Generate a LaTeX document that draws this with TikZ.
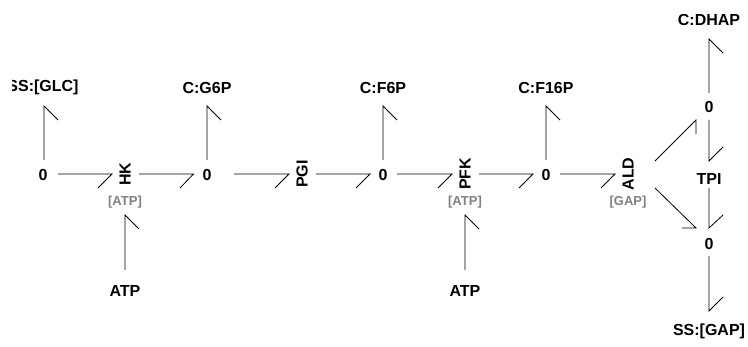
\documentclass[tikz,border=0pt]{standalone}
\usepackage{fontspec}
\setmainfont{Liberation Sans}
\tikzset{
 x=1pt,y=-1pt,
 lab/.style={font=\bfseries\fontsize{16}{16}\selectfont,inner sep=0pt,text=black},
 rot/.style={lab,rotate=90},
 mod/.style={font=\bfseries\fontsize{13}{13}\selectfont,inner sep=0pt,text=gray},
 bond/.style={draw=black,line width=0.8pt},
}
\begin{document}
\begin{tikzpicture}
\useasboundingbox (0,0) rectangle (748,347);
\node[lab] (glc) at (43,87.5) {SS:[GLC]};
\fill[white] (0,70) rectangle (11.5,100);
\node[lab] (z1) at (43,174.5) {0};
\node[rot] (hk) at (125,174) {HK};
\node[mod] (m1) at (125,202.5) {[ATP]};
\node[lab] (atp1) at (125,290.5) {ATP};
\node[lab] (g6p) at (207,87.5) {C:G6P};
\node[lab] (z2) at (207,174.5) {0};
\node[rot] (pgi) at (302,174) {PGI};
\node[lab] (f6p) at (383,87.5) {C:F6P};
\node[lab] (z3) at (383,174.5) {0};
\node[rot] (pfk) at (465,174) {PFK};
\node[mod] (m2) at (465,202.5) {[ATP]};
\node[lab] (atp2) at (465,290.5) {ATP};
\node[lab] (f16p) at (546,87.5) {C:F16P};
\node[lab] (z4) at (546,174.5) {0};
\node[rot] (ald) at (628,174) {ALD};
\node[mod] (m3) at (628,202.5) {[GAP]};
\node[lab] (dhap) at (709,19.5) {C:DHAP};
\node[lab] (z5) at (709,106.5) {0};
\node[lab] (tpi) at (709,178.5) {TPI};
\node[lab] (z6) at (709,243.5) {0};
\node[lab] (gap) at (709,331.5) {SS:[GAP]};
% bonds: start -- tip -- barb
\draw[bond] (44,160) -- (44,106) -- (58,120);
\draw[bond] (58,174) -- (112,174) -- (98,188);
\draw[bond] (139,174) -- (193.5,174) -- (180,188);
\draw[bond] (207,160) -- (207,106) -- (221,120);
\draw[bond] (234,174) -- (289,174) -- (275,188);
\draw[bond] (316,174) -- (370,174) -- (356,188);
\draw[bond] (383,160) -- (383,106) -- (397,120);
\draw[bond] (397,174) -- (452,174) -- (438,188);
\draw[bond] (479,174) -- (533,174) -- (519,188);
\draw[bond] (546,160) -- (546,106) -- (560,120);
\draw[bond] (560,174) -- (615,174) -- (601,188);
\draw[bond] (125,270) -- (125,215) -- (139,229);
\draw[bond] (465,270) -- (465,215) -- (479,229);
\draw[bond] (709,93) -- (709,39) -- (723,53);
\draw[bond] (709,120) -- (709,161) -- (723,147);
\draw[bond] (709,188) -- (709,228) -- (723,215);
\draw[bond] (655,161) -- (696,120) -- (696,134);
\draw[bond] (655,188) -- (696,228) -- (682,228);
\draw[bond] (709,256) -- (709,311) -- (723,297);
\end{tikzpicture}
\end{document}
